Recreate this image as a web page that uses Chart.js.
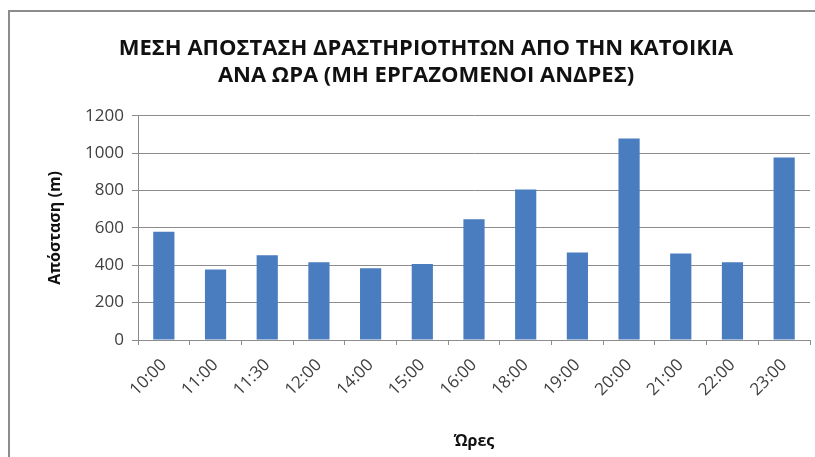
<!DOCTYPE html>
<html>
<head>
<meta charset="utf-8">
<script src="https://cdn.jsdelivr.net/npm/chart.js@4"></script>
<style>
    html, body { margin: 0; padding: 0; background: #fff; }
    #wrap { position: relative; width: 815px; height: 457px; }
    #frame {
        position: absolute; left: 8px; top: 10px; width: 820px; height: 460px;
        border: 2px solid #8c8c8c; box-sizing: border-box; pointer-events: none;
    }
</style>
</head>
<body>
<div id="wrap">
    <canvas id="distBar" width="815" height="457"></canvas>
    <div id="frame"></div>
</div>
<script>
const hours     = ['10:00', '11:00', '11:30', '12:00', '14:00', '15:00', '16:00', '18:00', '19:00', '20:00', '21:00', '22:00', '23:00'];
const distances = [580, 377, 453, 416, 384, 407, 646, 805, 469, 1079, 463, 416, 977];
const yTicks    = [0, 200, 400, 600, 800, 1000, 1200];

const titleLines = ['ΜΕΣΗ ΑΠΟΣΤΑΣΗ ΔΡΑΣΤΗΡΙΟΤΗΤΩΝ ΑΠΟ ΤΗΝ ΚΑΤΟΙΚΙΑ', 'ΑΝΑ ΩΡΑ (ΜΗ ΕΡΓΑΖΟΜΕΝΟΙ ΑΝΔΡΕΣ)'];
const fontFam = "'Open Sans', 'DejaVu Sans', sans-serif";

new Chart(document.getElementById('distBar'), {
    type: 'bar',
    data: {
        labels: hours,
        datasets: [{
            data: distances,
            backgroundColor: '#4a7cc0',
            barPercentage: 0.41,
            categoryPercentage: 1,
        }]
    },
    options: {
        responsive: false,
        animation: false,
        layout: { padding: { left: 42, right: 5, top: 0, bottom: 0 } },
        plugins: {
            legend: { display: false },
            tooltip: { enabled: false },
            title: {
                display: true,
                text: titleLines,
                color: '#111',
                font: { family: fontFam, size: 22, weight: 'bold' },
                lineHeight: 1.27,
                padding: { top: 36, bottom: 27 }
            }
        },
        scales: {
            x: {
                grid: { display: true, drawOnChartArea: false, color: '#8c8c8c', tickLength: 5, offset: true },
                border: { color: '#8c8c8c' },
                ticks: {
                    color: '#404040',
                    font: { family: fontFam, size: 17 },
                    minRotation: 45, maxRotation: 45, padding: 10
                },
                title: {
                    display: true, text: 'Ώρες', color: '#111',
                    font: { family: fontFam, size: 16, weight: 'bold' },
                    padding: { top: 6, bottom: 6 }
                },
                afterFit: function (scale) { scale.height = 117; }
            },
            y: {
                min: 0, max: 1200,
                afterBuildTicks: function (scale) { scale.ticks = yTicks.map(v => ({ value: v })); },
                grid: { color: '#8c8c8c', tickLength: 6 },
                border: { color: '#8c8c8c' },
                ticks: {
                    color: '#404040', font: { family: fontFam, size: 17 }, padding: 8,
                    callback: function (v) { return String(v); }
                },
                title: {
                    display: true, text: 'Απόσταση (m)', color: '#111',
                    font: { family: fontFam, size: 16, weight: 'bold' },
                    padding: { bottom: 4 }
                },
                afterFit: function (scale) { scale.width = 96; }
            }
        }
    }
});
</script>
</body>
</html>
